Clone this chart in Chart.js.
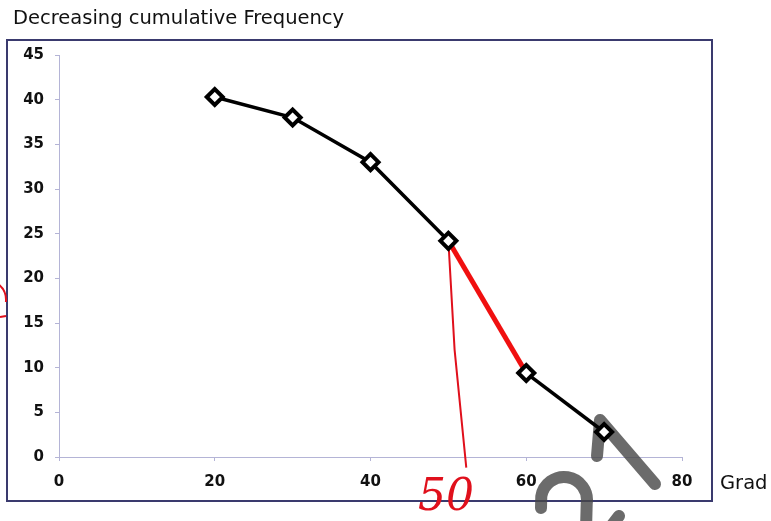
<!DOCTYPE html>
<html>
<head>
<meta charset="utf-8">
<script src="https://cdn.jsdelivr.net/npm/chart.js@4.4.1/dist/chart.umd.min.js"></script>
<style>
  html, body { margin: 0; padding: 0; background: #fff; }
  #wrap { width: 771px; height: 521px; position: relative; }
</style>
</head>
<body>
<div id="wrap"><canvas id="freq-chart" width="771" height="521"></canvas></div>
<script>
const grades = [20, 30, 40, 50, 60, 70];
const cumFreq = [40.3, 38, 33, 24.2, 9.4, 2.8];

// hand-drawn red marks on the photo
const redSegFrom = 50; // segment 50 -> 60 traced in red
const redDropX = [50, 50.8, 52.3];
const redDropY = [24.2, 12, -1.2];

const xTicks = [0, 20, 40, 60, 80];
const yTicks = [0, 5, 10, 15, 20, 25, 30, 35, 40, 45];

const tickFont = { family: 'DejaVu Sans', size: 15, weight: 'bold' };

function toPoints(xs, ys) {
  return xs.map((x, i) => ({ x: x, y: ys[i] }));
}

function isRedSeg(c) {
  return c.p0.parsed.x === redSegFrom;
}

const framePlugin = {
  id: 'frame',
  beforeDraw(chart) {
    const ctx = chart.ctx;
    ctx.save();
    ctx.fillStyle = '#ffffff';
    ctx.fillRect(0, 0, chart.width, chart.height);
    ctx.strokeStyle = '#3a3a6e';
    ctx.lineWidth = 2;
    ctx.strokeRect(7, 40, 705, 461);
    ctx.fillStyle = '#111';
    ctx.font = '19.5px "DejaVu Sans"';
    ctx.textBaseline = 'middle';
    ctx.fillText('Decreasing cumulative Frequency', 13, 19);
    ctx.fillText('Grad', 720, 484);
    ctx.restore();
  },
  beforeDatasetsDraw(chart) {
    // photo watermark strokes
    const ctx = chart.ctx;
    ctx.save();
    ctx.strokeStyle = 'rgba(70,70,70,0.8)';
    ctx.lineWidth = 12;
    ctx.lineCap = 'round';
    ctx.lineJoin = 'round';
    ctx.beginPath();
    ctx.moveTo(597, 456);
    ctx.lineTo(600, 420);
    ctx.lineTo(655, 484);
    ctx.stroke();
    ctx.beginPath();
    ctx.moveTo(541, 508);
    ctx.arc(564, 500, 23, Math.PI * 1.05, Math.PI * 0.05);
    ctx.lineTo(586, 530);
    ctx.stroke();
    ctx.beginPath();
    ctx.moveTo(612, 525);
    ctx.lineTo(619, 516);
    ctx.stroke();
    ctx.restore();
  },
  afterDraw(chart) {
    const ctx = chart.ctx;
    ctx.save();
    ctx.fillStyle = '#e0101c';
    ctx.font = 'italic 44px "DejaVu Serif"';
    ctx.textBaseline = 'middle';
    ctx.fillText('50', 418, 499);
    ctx.strokeStyle = '#e0101c';
    ctx.lineWidth = 2;
    ctx.beginPath();
    ctx.arc(-14, 300, 20, -0.9, 0.1);
    ctx.stroke();
    ctx.beginPath();
    ctx.moveTo(0, 317);
    ctx.lineTo(6, 316);
    ctx.stroke();
    ctx.restore();
  }
};

const ctx = document.getElementById('freq-chart').getContext('2d');

new Chart(ctx, {
  type: 'line',
  data: {
    datasets: [
      {
        data: toPoints(redDropX, redDropY),
        borderColor: '#e0101c',
        borderWidth: 2,
        pointRadius: 0,
        tension: 0,
        clip: false,
        order: 2
      },
      {
        data: toPoints(grades, cumFreq),
        borderColor: '#000',
        borderWidth: 3.5,
        segment: {
          borderColor: c => isRedSeg(c) ? '#f01010' : '#000',
          borderWidth: c => isRedSeg(c) ? 5 : 3.5
        },
        pointStyle: 'rectRot',
        pointRadius: 8,
        pointBorderWidth: 4,
        pointBackgroundColor: '#fff',
        pointBorderColor: '#000',
        order: 1
      }
    ]
  },
  options: {
    responsive: false,
    animation: false,
    layout: { padding: { left: 0, right: 89, top: 55, bottom: 24 } },
    plugins: {
      legend: { display: false },
      tooltip: { enabled: false }
    },
    scales: {
      x: {
        type: 'linear',
        min: 0,
        max: 80,
        afterBuildTicks: (scale) => { scale.ticks = xTicks.map(v => ({ value: v })); },
        afterFit: (scale) => { scale.height = 40; },
        border: { color: '#b4b4d6', width: 1 },
        grid: { drawOnChartArea: false, color: '#b4b4d6', tickLength: 4 },
        ticks: { color: '#111', font: tickFont, padding: 12, maxRotation: 0 }
      },
      y: {
        type: 'linear',
        min: 0,
        max: 45,
        afterBuildTicks: (scale) => { scale.ticks = yTicks.map(v => ({ value: v })); },
        afterFit: (scale) => { scale.width = 59; },
        border: { color: '#b4b4d6', width: 1 },
        grid: { drawOnChartArea: false, color: '#b4b4d6', tickLength: 4 },
        ticks: { color: '#111', font: tickFont, padding: 11 }
      }
    }
  },
  plugins: [framePlugin]
});
</script>
</body>
</html>
